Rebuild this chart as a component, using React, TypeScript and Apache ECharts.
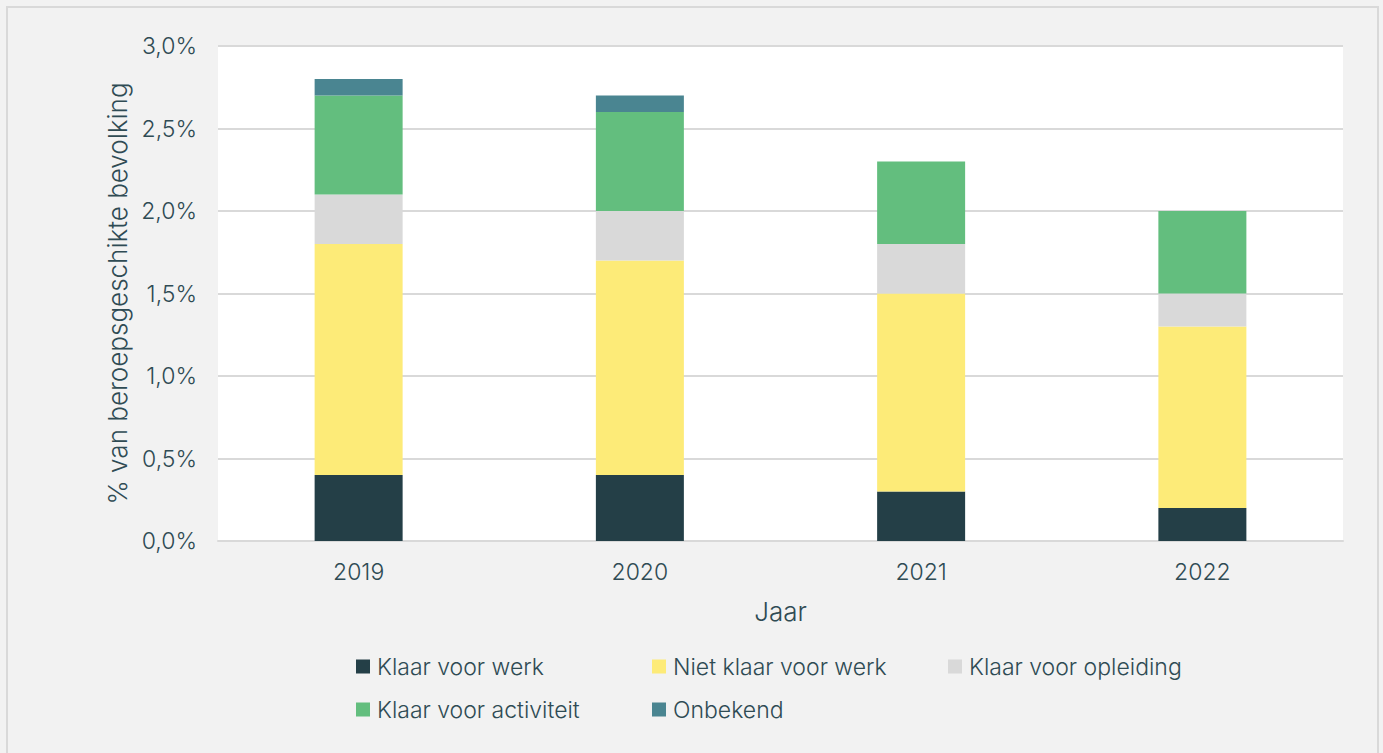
import React, { useEffect, useRef } from "react";
import * as echarts from "echarts";

const categories = ["2019", "2020", "2021", "2022"];
const seriesNames = [
  "Klaar voor werk",
  "Niet klaar voor werk",
  "Klaar voor opleiding",
  "Klaar voor activiteit",
  "Onbekend",
];
const klaarVoorWerk = [0.4, 0.4, 0.3, 0.2];
const nietKlaarVoorWerk = [1.4, 1.3, 1.2, 1.1];
const klaarVoorOpleiding = [0.3, 0.3, 0.3, 0.2];
const klaarVoorActiviteit = [0.6, 0.6, 0.5, 0.5];
const onbekend = [0.1, 0.1, null, null];
const colors = ["#243f47", "#fdeb78", "#d9d9d9", "#63be7e", "#4a8591"];

const FONT = "Inter, Lato, sans-serif";
const TEXT = "#2f4b54";
const FS = 23;
const NAME_FS = 26;

export default function App() {
  const ref = useRef<HTMLDivElement>(null);
  useEffect(() => {
    if (!ref.current) return;
    const chart = echarts.init(ref.current, null, { renderer: "svg" });
    const values = [klaarVoorWerk, nietKlaarVoorWerk, klaarVoorOpleiding, klaarVoorActiviteit, onbekend];
    const legendPos = [
      [356, 655],
      [652, 655],
      [948, 655],
      [356, 698],
      [652, 698],
    ];
    chart.setOption({
      animation: false,
      backgroundColor: "#f2f2f2",
      textStyle: { fontFamily: FONT },
      graphic: [
        {
          type: "rect",
          shape: { x: 7, y: 7, width: 1371, height: 760 },
          style: { fill: "none", stroke: "#d9d9d9", lineWidth: 2 },
          silent: true,
        },
      ],
      grid: {
        left: 218,
        right: 40,
        top: 46,
        bottom: 212,
        show: true,
        backgroundColor: "#ffffff",
        borderWidth: 0,
      },
      legend: seriesNames.map((n, i) => ({
        data: [n],
        left: legendPos[i][0],
        top: legendPos[i][1],
        icon: "rect",
        itemWidth: 14,
        itemHeight: 14,
        padding: 0,
        selectedMode: false,
        textStyle: { fontFamily: FONT, fontSize: FS, fontWeight: 300, color: TEXT, padding: [0, 0, 0, 2] },
      })),
      xAxis: {
        type: "category",
        data: categories,
        name: "Jaar",
        nameLocation: "middle",
        nameGap: 57,
        nameTextStyle: { fontFamily: FONT, fontSize: NAME_FS, fontWeight: 300, color: TEXT },
        axisLine: { lineStyle: { color: "#d9d9d9", width: 2 } },
        axisTick: { show: false },
        axisLabel: { fontFamily: FONT, fontSize: FS, fontWeight: 300, color: TEXT, margin: 19 },
      },
      yAxis: {
        type: "value",
        min: 0,
        max: 3,
        interval: 0.5,
        name: "% van beroepsgeschikte bevolking",
        nameLocation: "middle",
        nameGap: 81,
        nameTextStyle: { fontFamily: FONT, fontSize: NAME_FS, fontWeight: 300, color: TEXT },
        axisLine: { show: false },
        axisTick: { show: false },
        splitLine: { lineStyle: { color: "#d9d9d9", width: 2 } },
        axisLabel: {
          fontFamily: FONT,
          fontSize: FS,
          fontWeight: 300,
          color: TEXT,
          margin: 21,
          formatter: (v: number) => v.toFixed(1).replace(".", ",") + "%",
        },
      },
      series: seriesNames.map((n, i) => ({
        name: n,
        type: "bar",
        stack: "total",
        barWidth: 88,
        data: values[i],
        itemStyle: { color: colors[i] },
      })),
    });
    return () => chart.dispose();
  }, []);
  return (
    <div
      ref={ref}
      style={{ position: "fixed", left: 0, top: 0, width: 1383, height: 753 }}
    />
  );
}
